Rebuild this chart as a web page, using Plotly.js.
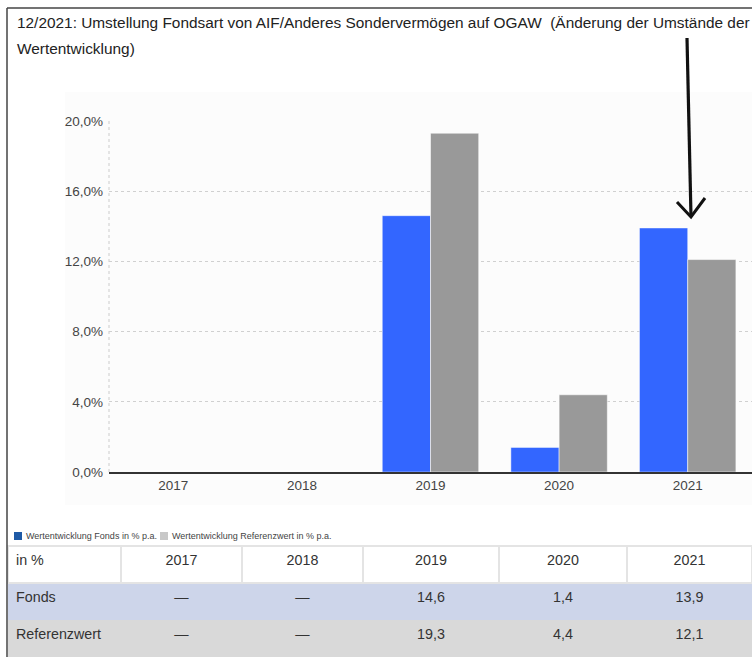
<!DOCTYPE html>
<html>
<head>
<meta charset="utf-8">
<script src="https://cdn.plot.ly/plotly-3.0.1.min.js"></script>
<style>
  html, body { margin: 0; padding: 0; background: #ffffff; }
  #chart { width: 752px; height: 657px; }
</style>
</head>
<body>
<div id="chart"></div>
<script>
// ---- data ----
const years = ['2017', '2018', '2019', '2020', '2021'];
const fonds = [null, null, 14.6, 1.4, 13.9];
const referenz = [null, null, 19.3, 4.4, 12.1];
const yTicks = [0, 4, 8, 12, 16, 20];
const yTickText = ['0,0%', '4,0%', '8,0%', '12,0%', '16,0%', '20,0%'];
const seriesNames = ['Wertentwicklung Fonds in % p.a.', 'Wertentwicklung Referenzwert in % p.a.'];
const rowLabels = ['Fonds', 'Referenzwert'];
const tableCorner = 'in %';
const titleLine1 = '12/2021: Umstellung Fondsart von AIF/Anderes Sondervermögen auf OGAW  (Änderung der Umstände der';
const titleLine2 = 'Wertentwicklung)';

// ---- geometry helpers (pixel -> paper) ----
const W = 752, H = 657;
const px = x => x / W;
const py = y => (H - y) / H;

const FONT = 'Liberation Sans, Arial, Helvetica, sans-serif';
const fmt = v => (v === null ? '—' : v.toFixed(1).replace('.', ','));

const barFonds = {
  type: 'bar', name: seriesNames[0], x: years, y: fonds,
  marker: { color: '#3366ff', line: { color: 'rgba(255,255,255,0.45)', width: 1 } },
  hoverinfo: 'skip', showlegend: false
};
const barRef = {
  type: 'bar', name: seriesNames[1], x: years, y: referenz,
  marker: { color: '#999999', line: { color: 'rgba(255,255,255,0.55)', width: 1 } },
  hoverinfo: 'skip', showlegend: false
};

const tableTrace = {
  type: 'table',
  domain: { x: [px(8), 1], y: [0, py(546)] },
  columnwidth: [113, 121, 121, 136, 128, 125],
  header: {
    values: [tableCorner].concat(years),
    align: ['left', 'center', 'center', 'center', 'center', 'center'],
    height: 37,
    fill: { color: '#ffffff' },
    line: { color: '#e4e4e4', width: 2 },
    font: { family: FONT, size: 14.3, color: '#333333' }
  },
  cells: {
    values: [rowLabels].concat(years.map((y, i) => [fmt(fonds[i]), fmt(referenz[i])])),
    align: ['left', 'center', 'center', 'center', 'center', 'center'],
    height: 37,
    fill: { color: [['#cdd5ea', '#d9d9d9']] },
    line: { color: [['#cdd5ea', '#d9d9d9']], width: 1 },
    font: { family: FONT, size: 14.3, color: '#333333' }
  }
};

const shapes = [
  // faint background panel
  { type: 'rect', xref: 'paper', yref: 'paper', x0: px(65), x1: 1, y0: py(505), y1: py(92),
    fillcolor: '#fcfcfc', line: { width: 0 }, layer: 'below' },
  // dotted y axis line
  { type: 'line', xref: 'paper', yref: 'paper', x0: px(109), x1: px(109), y0: py(472), y1: py(120),
    line: { color: '#cccccc', width: 1, dash: 'dot' }, layer: 'below' },
  // frame
  { type: 'line', xref: 'paper', yref: 'paper', x0: px(7), x1: px(7), y0: 0, y1: py(8),
    line: { color: '#444444', width: 1.5 } },
  { type: 'line', xref: 'paper', yref: 'paper', x0: px(7), x1: 1, y0: py(8), y1: py(8),
    line: { color: '#444444', width: 1.5 } },
  // hand-drawn arrow
  { type: 'path', xref: 'paper', yref: 'paper',
    path: `M${px(687)},${py(38)} L${px(691)},${py(217)}`,
    line: { color: '#111111', width: 3.2 } },
  { type: 'path', xref: 'paper', yref: 'paper',
    path: `M${px(677)},${py(202)} L${px(691)},${py(217)} L${px(705)},${py(198)}`,
    line: { color: '#111111', width: 3 } },
  // legend swatches
  { type: 'rect', xref: 'paper', yref: 'paper', x0: px(14), x1: px(22), y0: py(540), y1: py(532),
    fillcolor: '#1f5aa6', line: { width: 0 } },
  { type: 'rect', xref: 'paper', yref: 'paper', x0: px(160), x1: px(168), y0: py(540), y1: py(532),
    fillcolor: '#c8c8c8', line: { width: 0 } }
];

const annotations = [
  { xref: 'paper', yref: 'paper', x: px(15), y: py(22), xanchor: 'left', yanchor: 'middle',
    text: titleLine1, showarrow: false, font: { family: FONT, size: 15.4, color: '#222222' } },
  { xref: 'paper', yref: 'paper', x: px(15), y: py(48), xanchor: 'left', yanchor: 'middle',
    text: titleLine2, showarrow: false, font: { family: FONT, size: 15.4, color: '#222222' } },
  { xref: 'paper', yref: 'paper', x: px(24), y: py(536), xanchor: 'left', yanchor: 'middle',
    text: seriesNames[0], showarrow: false, font: { family: FONT, size: 9, color: '#444444' } },
  { xref: 'paper', yref: 'paper', x: px(170), y: py(536), xanchor: 'left', yanchor: 'middle',
    text: seriesNames[1], showarrow: false, font: { family: FONT, size: 9, color: '#444444' } }
];

const layout = {
  width: W, height: H,
  margin: { l: 0, r: 0, t: 0, b: 0, pad: 0 },
  paper_bgcolor: '#ffffff',
  plot_bgcolor: '#ffffff',
  separators: ',.',
  barmode: 'group',
  bargap: 0.25,
  bargroupgap: 0,
  showlegend: false,
  xaxis: {
    domain: [px(109), 1],
    type: 'category',
    showgrid: false,
    showline: true, linecolor: '#333333', linewidth: 2,
    ticks: '', fixedrange: true,
    tickfont: { family: FONT, size: 13.5, color: '#444444' }
  },
  yaxis: {
    domain: [py(472), py(120)],
    range: [0, 20.05],
    tickmode: 'array',
    tickvals: yTicks,
    ticktext: yTickText,
    showgrid: true, gridcolor: '#d0d0d0', griddash: 'dot', gridwidth: 1,
    zeroline: false, showline: false, ticks: '',
    ticklabelstandoff: 5,
    tickfont: { family: FONT, size: 13.5, color: '#444444' }
  },
  shapes: shapes,
  annotations: annotations
};

Plotly.newPlot('chart', [barFonds, barRef, tableTrace], layout, { staticPlot: true, displayModeBar: false });
</script>
</body>
</html>
